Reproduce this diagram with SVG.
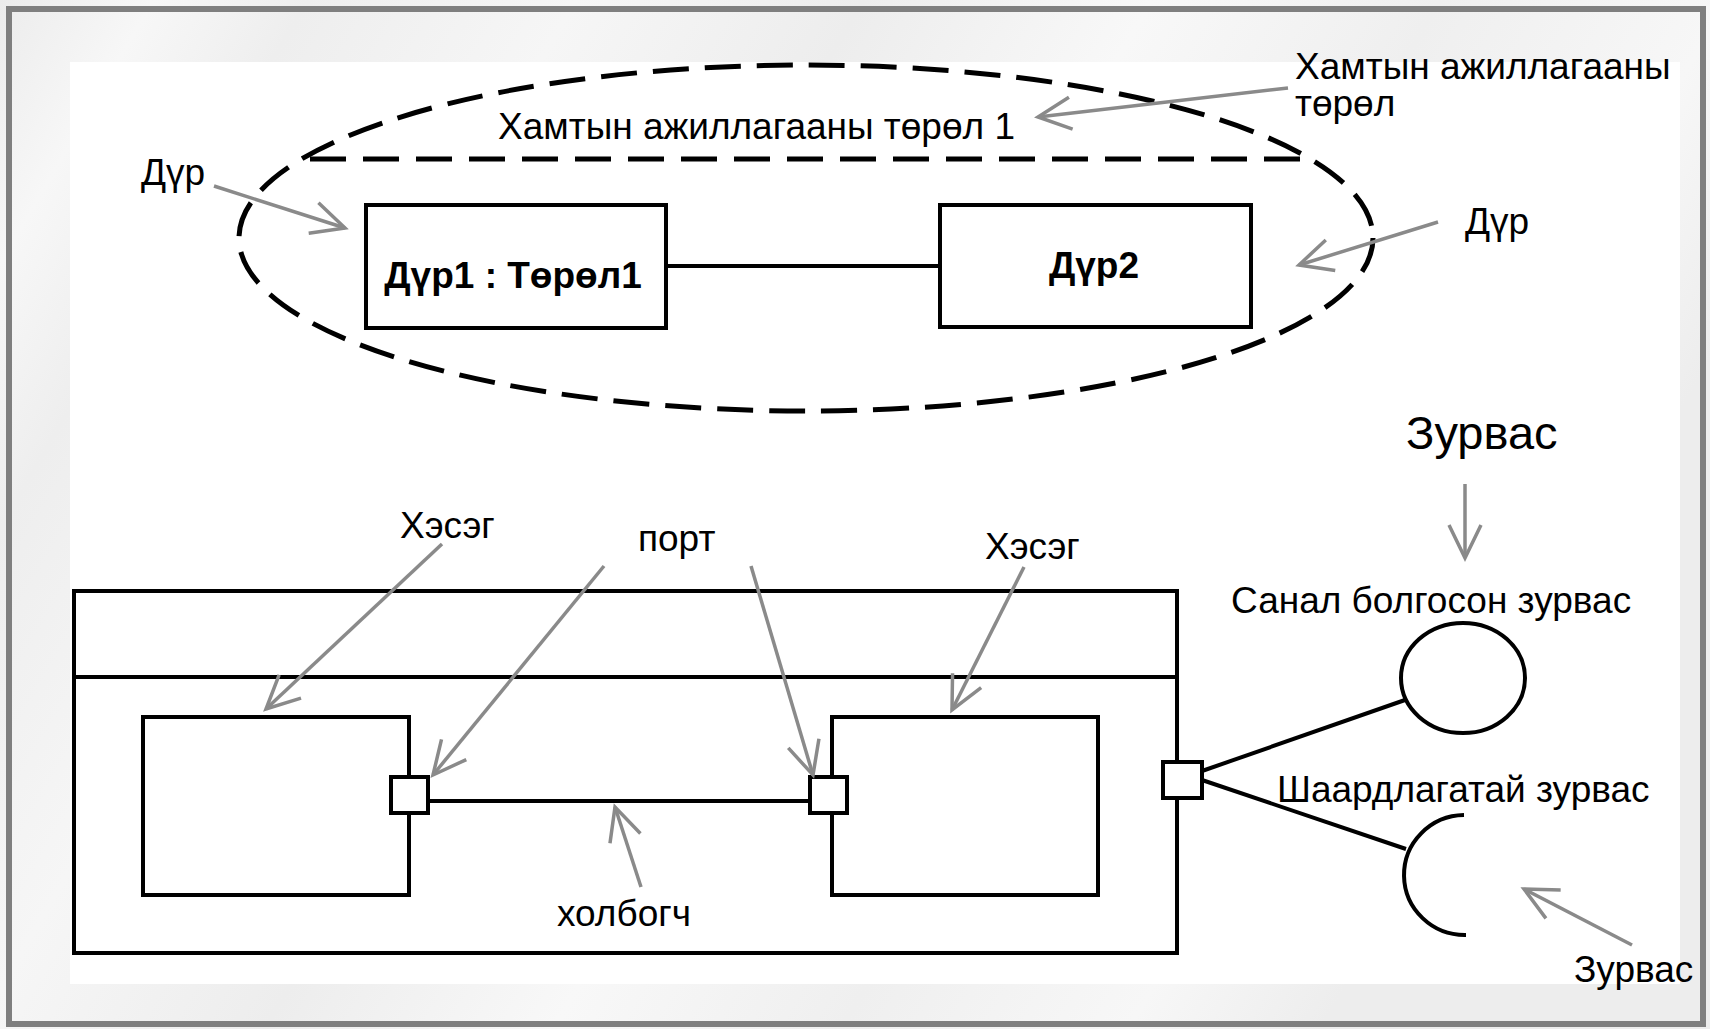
<svg xmlns="http://www.w3.org/2000/svg" width="1710" height="1029" viewBox="0 0 1710 1029">
  <style>
    .lbl { font-family: "Liberation Sans", Arial, sans-serif; font-size: 37px; fill: #000; }
    .bold { font-family: "Liberation Sans", Arial, sans-serif; font-size: 37px; font-weight: bold; fill: #000; }
    .box { fill: #fff; stroke: #000; stroke-width: 4; }
    .line { fill: none; stroke: #000; stroke-width: 4; }
    .dash { fill: none; stroke: #000; stroke-width: 5; stroke-dasharray: 36 16; }
    .ptr { fill: none; stroke: #8a8a8a; stroke-width: 3.5; marker-end: url(#open); }
  </style>
  <defs>
    <marker id="open" markerUnits="userSpaceOnUse" markerWidth="60" markerHeight="60" refX="0" refY="0" orient="auto" overflow="visible">
      <path d="M -33 -16 L 0 0 L -33 16" fill="none" stroke="#8a8a8a" stroke-width="3.5"/>
    </marker>
    <linearGradient id="streaks" x1="0" y1="0" x2="1" y2="0.35">
      <stop offset="0" stop-color="#ececec"/>
      <stop offset="0.08" stop-color="#f7f7f7"/>
      <stop offset="0.16" stop-color="#eeeeee"/>
      <stop offset="0.3" stop-color="#f6f6f6"/>
      <stop offset="0.45" stop-color="#ededed"/>
      <stop offset="0.6" stop-color="#f8f8f8"/>
      <stop offset="0.75" stop-color="#efefef"/>
      <stop offset="0.9" stop-color="#f7f7f7"/>
      <stop offset="1" stop-color="#ededed"/>
    </linearGradient>
  </defs>

  <!-- slide background and frame -->
  <rect x="0" y="0" width="1710" height="1029" fill="url(#streaks)"/>
  <rect x="70" y="62" width="1610" height="922" fill="#fff"/>
  <rect x="9" y="9" width="1694" height="1015" fill="none" stroke="#7f7f7f" stroke-width="6"/>

  <!-- collaboration -->
  <g id="collaboration">
    <ellipse cx="806" cy="238" rx="567" ry="173" class="dash"/>
    <line x1="310" y1="159" x2="1300" y2="159" class="dash" style="stroke-dasharray:36 17"/>
    <text x="498" y="139" class="lbl">Хамтын ажиллагааны төрөл 1</text>
  </g>

  <g id="role1">
    <rect x="366" y="205" width="300" height="123" class="box"/>
    <text x="513" y="288" class="bold" text-anchor="middle">Дүр1 : Төрөл1</text>
  </g>

  <g id="role2">
    <rect x="940" y="205" width="311" height="122" class="box"/>
    <text x="1094" y="278" class="bold" text-anchor="middle">Дүр2</text>
  </g>

  <!-- structured classifier with parts and ports -->
  <g id="classifier">
    <rect x="74" y="591" width="1103" height="362" class="box"/>
    <line x1="74" y1="677" x2="1177" y2="677" class="line"/>
  </g>

  <g id="part1">
    <rect x="143" y="717" width="266" height="178" class="box"/>
  </g>

  <g id="part2">
    <rect x="832" y="717" width="266" height="178" class="box"/>
  </g>

  <g id="port1">
    <rect x="391" y="777" width="37" height="36" class="box"/>
  </g>

  <g id="port2">
    <rect x="810" y="777" width="37" height="36" class="box"/>
  </g>

  <g id="port3">
    <rect x="1163" y="762" width="39" height="36" class="box"/>
  </g>

  <g id="provided">
    <ellipse cx="1463" cy="678" rx="62" ry="55" class="line"/>
  </g>

  <g id="required">
    <path d="M 1464 815 A 61 60 0 0 0 1466 935" class="line"/>
  </g>

  <!-- annotation labels -->
  <g id="labels">
    <text x="1295" y="79" class="lbl">Хамтын ажиллагааны</text>
    <text x="1295" y="116" class="lbl">төрөл</text>
    <text x="141" y="185" class="lbl">Дүр</text>
    <text x="1465" y="234" class="lbl">Дүр</text>
    <text x="400" y="538" class="lbl">Хэсэг</text>
    <text x="638" y="551" class="lbl">порт</text>
    <text x="985" y="559" class="lbl">Хэсэг</text>
    <text x="557" y="926" class="lbl">холбогч</text>
    <text x="1406" y="449" class="lbl" style="font-size:47px">Зурвас</text>
    <text x="1231" y="613" class="lbl">Санал болгосон зурвас</text>
    <text x="1277" y="802" class="lbl">Шаардлагатай зурвас</text>
    <text x="1574" y="982" class="lbl">Зурвас</text>
  </g>

  <!-- connectors: black links and grey pointer arrows -->
  <g id="connectors">
    <line x1="666" y1="266" x2="940" y2="266" class="line" stroke-width="3.5"/>
    <line x1="428" y1="801" x2="810" y2="801" class="line" stroke-width="3.5"/>
    <line x1="1202" y1="771" x2="1405" y2="700" class="line"/>
    <line x1="1202" y1="780" x2="1406" y2="849" class="line"/>

    <line x1="1288" y1="88" x2="1038" y2="117" class="ptr"/>
    <line x1="214" y1="186" x2="345" y2="228" class="ptr"/>
    <line x1="1438" y1="222" x2="1299" y2="265" class="ptr"/>
    <line x1="442" y1="544" x2="266" y2="709" class="ptr"/>
    <line x1="604" y1="566" x2="433" y2="775" class="ptr"/>
    <line x1="751" y1="566" x2="813" y2="775" class="ptr"/>
    <line x1="1024" y1="567" x2="952" y2="710" class="ptr"/>
    <line x1="641" y1="887" x2="615" y2="807" class="ptr"/>
    <line x1="1465" y1="484" x2="1465" y2="558" class="ptr"/>
    <line x1="1632" y1="945" x2="1524" y2="889" class="ptr"/>
  </g>
</svg>
